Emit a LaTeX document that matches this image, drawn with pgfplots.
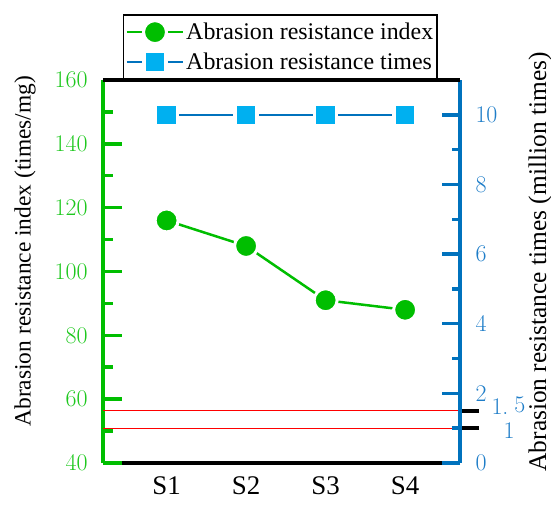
\documentclass[border=0pt]{standalone}
\usepackage{fontspec}
\usepackage{pgfplots}
\usepackage{pgfplotstable}
\pgfplotsset{compat=1.18}
\newfontfamily\tnr{Liberation Serif}
\definecolor{cgreen}{RGB}{0,190,0}
\definecolor{cgreenT}{RGB}{30,200,30}
\definecolor{cblue}{RGB}{0,114,189}
\definecolor{cblueT}{RGB}{30,125,200}
\definecolor{csq}{RGB}{0,176,240}

\pgfplotstableread{
x y
1 116
2 108
3 91
4 88
}\idxdata
\pgfplotstableread{
x y
1 10
2 10
3 10
4 10
}\timesdata

\begin{document}
\begin{tikzpicture}
\path[use as bounding box] (-103bp,-42bp) rectangle (448bp,463bp);
\begin{axis}[
 at={(0,0)}, anchor=south west,
 scale only axis, width=357bp, height=383bp,
 xmin=0.2, xmax=4.69, ymin=40, ymax=160,
 axis x line=bottom, axis y line=left,
 axis line style={-},
 x axis line style={black, line width=4bp, -},
 y axis line style={cgreen, line width=3.5bp, -},
 xtick={1,2,3,4}, xticklabels={S1,S2,S3,S4},
 x tick style={draw=none},
 xticklabel style={font=\tnr\fontsize{27}{30}\selectfont, text=black, yshift=-10bp},
 ytick={40,60,...,160}, minor y tick num=1,
 y tick style={cgreen, line width=3.5bp},
 tick align=inside,
 major tick length=19bp, minor tick length=10bp,
 yticklabel style={font=\rmfamily\fontsize{24}{28}\selectfont, text=cgreenT, xshift=-12bp},
 /pgf/number format/assume math mode=true,
 clip=false,
]
\addplot[cgreen, line width=2.5bp, mark=*, mark size=11.5bp,
  mark options={fill=cgreen, draw=white, line width=3bp}] table[x=x,y=y]{\idxdata};
\node[rotate=90, font=\tnr\fontsize{23.5}{26}\selectfont] at ([xshift=-78bp]rel axis cs:0,0.553) {Abrasion resistance index (times/mg)};
\end{axis}
\begin{axis}[
 at={(0,0)}, anchor=south west,
 scale only axis, width=357bp, height=383bp,
 xmin=0.2, xmax=4.69, ymin=0, ymax=11,
 axis x line=none, axis y line=right,
 axis line style={-},
 y axis line style={draw=none},
 ytick={1,1.5}, yticklabels={},
 y tick style={black, line width=4bp},
 tick align=outside, major tick length=19bp,
 clip=false,
]
\addplot[red, line width=1.3bp] coordinates {(0.2,1) (4.69,1)};
\addplot[red, line width=1.3bp] coordinates {(0.2,1.5) (4.69,1.5)};
\node[anchor=west, font=\rmfamily\fontsize{24}{26}\selectfont, text=cblueT] at ([xshift=28bp, yshift=57bp]rel axis cs:1,0) {1.\hspace{6bp}\raisebox{2bp}{5}};
\node[anchor=west, font=\rmfamily\fontsize{24}{26}\selectfont, text=cblueT] at ([xshift=40bp, yshift=32bp]rel axis cs:1,0) {1};
\end{axis}
\begin{axis}[
 at={(0,0)}, anchor=south west,
 scale only axis, width=357bp, height=383bp,
 xmin=0.2, xmax=4.69, ymin=0, ymax=11,
 axis x line=none, axis y line=right,
 axis line style={-},
 y axis line style={cblue, line width=3.5bp, -},
 ytick={0,2,...,10}, minor y tick num=1,
 y tick style={cblue, line width=3.5bp},
 tick align=inside,
 major tick length=18bp, minor tick length=8bp,
 yticklabel style={font=\rmfamily\fontsize{24}{28}\selectfont, text=cblueT, xshift=12bp},
 /pgf/number format/assume math mode=true,
 clip=false,
 legend style={at={(rel axis cs:0.056,1)}, anchor=south west, draw=black, line width=1.5bp,
   fill=white, font=\tnr\fontsize{24}{28}\selectfont, inner xsep=2bp, inner ysep=2bp,
   nodes={inner xsep=2bp, inner ysep=6bp}, cells={anchor=west}},
 legend image code/.code={\draw[mark repeat=2, mark phase=2, #1] plot coordinates {(0bp,0bp) (28bp,0bp) (56bp,0bp)};},
]
\addlegendimage{cgreen, line width=2.5bp, mark=*, mark size=11.5bp,
  mark options={fill=cgreen, draw=white, line width=3bp}}
\addlegendentry{Abrasion resistance index}
\addplot[cblue, line width=2.5bp, mark=square*, mark size=11bp,
  mark options={fill=csq, draw=white, line width=3.5bp}] table[x=x,y=y]{\timesdata};
\addlegendentry{Abrasion resistance times}
\draw[black, line width=3.5bp] (rel axis cs:0,1) -- (rel axis cs:1,1);
\draw[cgreen, line width=4bp] (rel axis cs:0,0) -- ([xshift=19bp]rel axis cs:0,0);
\draw[cblue, line width=4bp] (rel axis cs:1,0) -- ([xshift=-18bp]rel axis cs:1,0);
\node[rotate=90, font=\tnr\fontsize{25.5}{28}\selectfont] at ([xshift=80bp]rel axis cs:1,0.525) {Abrasion resistance times (million times)};
\end{axis}
\end{tikzpicture}
\end{document}
